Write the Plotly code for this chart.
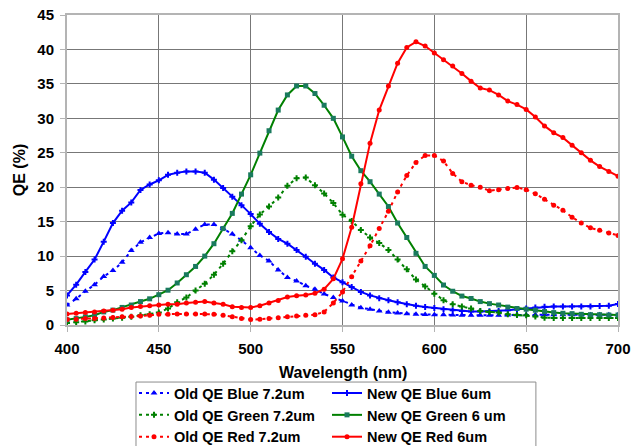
import plotly.graph_objects as go

wavelength = [400, 405, 410, 415, 420, 425, 430, 435, 440, 445, 450, 455, 460, 465, 470, 475,
              480, 485, 490, 495, 500, 505, 510, 515, 520, 525, 530, 535, 540, 545, 550, 555,
              560, 565, 570, 575, 580, 585, 590, 595, 600, 605, 610, 615, 620, 625, 630, 635,
              640, 645, 650, 655, 660, 665, 670, 675, 680, 685, 690, 695, 700]

old_blue = [2.9, 3.8, 4.9, 5.85, 7.05, 7.9, 9.1, 10.8, 12.0, 12.7, 13.3, 13.4, 13.2, 13.2, 13.9, 14.6,
            14.6, 14.0, 13.2, 12.3, 11.2, 10.1, 9.3, 8.0, 6.9, 6.4, 5.7, 5.2, 4.5, 4.0, 3.5, 2.9,
            2.5, 2.3, 2.05, 1.85, 1.75, 1.65, 1.57, 1.52, 1.5, 1.47, 1.45, 1.42, 1.4, 1.4, 1.4, 1.42,
            1.45, 1.47, 1.5, 1.5, 1.5, 1.5, 1.5, 1.5, 1.5, 1.5, 1.5, 1.5, 1.5]

new_blue = [4.3, 5.85, 7.7, 9.5, 12.1, 14.8, 16.6, 17.8, 19.6, 20.4, 21.0, 21.8, 22.1, 22.3, 22.3, 22.1,
            21.1, 19.9, 18.6, 17.4, 16.1, 14.7, 13.5, 12.5, 11.8, 10.9, 9.9, 8.9, 8.0, 6.9, 6.2, 5.5,
            4.8, 4.3, 3.9, 3.6, 3.3, 3.0, 2.8, 2.6, 2.45, 2.3, 2.15, 2.05, 1.95, 1.95, 2.0, 2.05,
            2.15, 2.3, 2.4, 2.55, 2.65, 2.7, 2.7, 2.7, 2.7, 2.7, 2.75, 2.8, 3.05]

old_green = [0.3, 0.4, 0.5, 0.7, 0.8, 0.95, 1.05, 1.2, 1.4, 1.55, 1.8, 2.4, 3.3, 4.0, 5.0, 6.0,
             7.3, 8.9, 10.7, 12.3, 14.35, 16.05, 17.2, 18.5, 20.2, 21.3, 21.4, 20.3, 19.1, 17.7, 16.0, 15.1,
             13.8, 12.7, 11.9, 10.9, 9.5, 8.1, 6.6, 5.6, 4.55, 3.6, 3.0, 2.7, 2.4, 2.05, 1.9, 1.8,
             1.55, 1.45, 1.4, 1.25, 1.07, 1.0, 1.0, 1.0, 1.0, 1.0, 1.0, 1.0, 1.0]

new_green = [0.75, 0.93, 1.18, 1.42, 1.9, 2.16, 2.55, 2.9, 3.4, 3.8, 4.4, 5.05, 6.1, 7.3, 8.5, 10.0,
             11.8, 14.0, 16.2, 19.0, 21.8, 24.95, 28.2, 31.2, 33.4, 34.7, 34.7, 33.6, 31.9, 30.0, 27.3, 24.5,
             22.4, 20.8, 19.0, 17.2, 14.8, 12.7, 10.4, 8.5, 7.2, 5.8, 4.9, 4.2, 3.85, 3.4, 3.1, 2.9,
             2.6, 2.4, 2.3, 2.15, 1.95, 1.8, 1.7, 1.65, 1.55, 1.5, 1.5, 1.45, 1.45]

old_red = [0.8, 0.85, 0.93, 0.95, 1.0, 1.08, 1.18, 1.23, 1.32, 1.42, 1.55, 1.57, 1.6, 1.6, 1.6, 1.6,
           1.57, 1.42, 1.18, 0.93, 0.8, 0.83, 0.93, 1.07, 1.18, 1.3, 1.4, 1.5, 1.9, 3.2, 4.8, 7.0,
           9.3, 11.5, 14.0, 16.5, 19.3, 21.7, 23.6, 24.6, 24.6, 23.8, 22.0, 20.8, 20.3, 20.0, 19.5, 19.65,
           19.8, 19.95, 19.65, 19.05, 18.25, 17.4, 16.65, 15.65, 14.8, 14.1, 13.75, 13.35, 13.0]

new_red = [1.6, 1.7, 1.8, 1.9, 2.05, 2.15, 2.3, 2.55, 2.7, 2.8, 2.9, 3.0, 3.0, 3.2, 3.3, 3.4,
           3.2, 3.0, 2.65, 2.55, 2.55, 2.8, 3.2, 3.55, 4.05, 4.25, 4.35, 4.6, 5.2, 6.7, 9.6, 14.2,
           20.5, 26.4, 31.2, 34.7, 38.0, 40.3, 41.1, 40.5, 39.5, 38.5, 37.6, 36.5, 35.4, 34.4, 34.1, 33.4,
           32.5, 32.0, 31.3, 30.2, 28.9, 27.9, 27.2, 26.1, 25.0, 23.9, 23.0, 22.3, 21.6]

x_ticks = [400, 450, 500, 550, 600, 650, 700]
y_ticks = [0, 5, 10, 15, 20, 25, 30, 35, 40, 45]

BLUE = "#0000FF"
GREEN = "#008000"
RED = "#FF0000"
DOT = "3px,4px"

fig = go.Figure()
fig.add_trace(go.Scatter(x=wavelength, y=old_blue, name="Old QE Blue 7.2um", mode="lines+markers",
                         line=dict(color=BLUE, width=2, dash=DOT),
                         marker=dict(symbol="triangle-up", size=6, color=BLUE)))
fig.add_trace(go.Scatter(x=wavelength, y=new_blue, name="New QE Blue 6um", mode="lines+markers",
                         line=dict(color=BLUE, width=2),
                         marker=dict(symbol="cross", size=5, color=BLUE)))
fig.add_trace(go.Scatter(x=wavelength, y=old_green, name="Old QE Green 7.2um", mode="lines+markers",
                         line=dict(color=GREEN, width=2, dash=DOT),
                         marker=dict(symbol="cross", size=5, color=GREEN)))
fig.add_trace(go.Scatter(x=wavelength, y=new_green, name="New QE Green 6 um", mode="lines+markers",
                         line=dict(color=GREEN, width=2),
                         marker=dict(symbol="square", size=5, color="#1a7a5e")))
fig.add_trace(go.Scatter(x=wavelength, y=old_red, name="Old QE Red 7.2um", mode="lines+markers",
                         line=dict(color=RED, width=2, dash=DOT),
                         marker=dict(symbol="circle", size=5, color=RED)))
fig.add_trace(go.Scatter(x=wavelength, y=new_red, name="New QE Red 6um", mode="lines+markers",
                         line=dict(color=RED, width=2),
                         marker=dict(symbol="circle", size=5, color=RED)))

FONT = "Liberation Sans, Arial, sans-serif"
axis_common = dict(
    showgrid=True, gridcolor="#777777", gridwidth=1,
    zeroline=False, showline=True, mirror=True, linecolor="#b4b4b4", linewidth=2,
    ticks="outside", ticklen=5, tickcolor="#b4b4b4", tickwidth=1,
    ticklabeloverflow="allow",
    tickfont=dict(family=FONT, size=15, color="black", weight="bold"),
)

# plot area at window x 67..618, y 15..325 (page body margin removed below)
fig.update_layout(
    width=640, height=446,
    margin=dict(l=67, r=22, t=15, b=121, autoexpand=False),
    paper_bgcolor="white", plot_bgcolor="white",
    font=dict(family=FONT, color="black"),
    xaxis=dict(range=[400, 700], tickvals=x_ticks, ticklabelstandoff=4, **axis_common),
    yaxis=dict(range=[0, 45], tickvals=y_ticks, ticklabelstandoff=3,
               title=dict(text="QE (%)", standoff=8,
                          font=dict(family=FONT, size=16, color="black", weight="bold")),
               **axis_common),
    annotations=[dict(text="Wavelength (nm)", xref="paper", yref="paper", x=0.5, y=-0.152,
                      xanchor="center", yanchor="middle", showarrow=False,
                      font=dict(family=FONT, size=16, color="black", weight="bold"))],
    shapes=[dict(type="rect", xref="paper", yref="paper", x0=0.1252, x1=0.851, y0=-0.184, y1=-0.6,
                 line=dict(color="#8c8c8c", width=1), fillcolor="rgba(0,0,0,0)", layer="above")],
    legend=dict(orientation="h", x=0.1216, xanchor="left", y=-0.168, yanchor="top",
                entrywidth=148, entrywidthmode="pixels",
                borderwidth=0, bgcolor="rgba(0,0,0,0)",
                font=dict(family=FONT, size=14.5, color="black", weight="bold"),
                traceorder="normal"),
    showlegend=True,
)

fig.write_html("out.html", config={"displayModeBar": False},
               post_script="document.body.style.margin='0px';")
